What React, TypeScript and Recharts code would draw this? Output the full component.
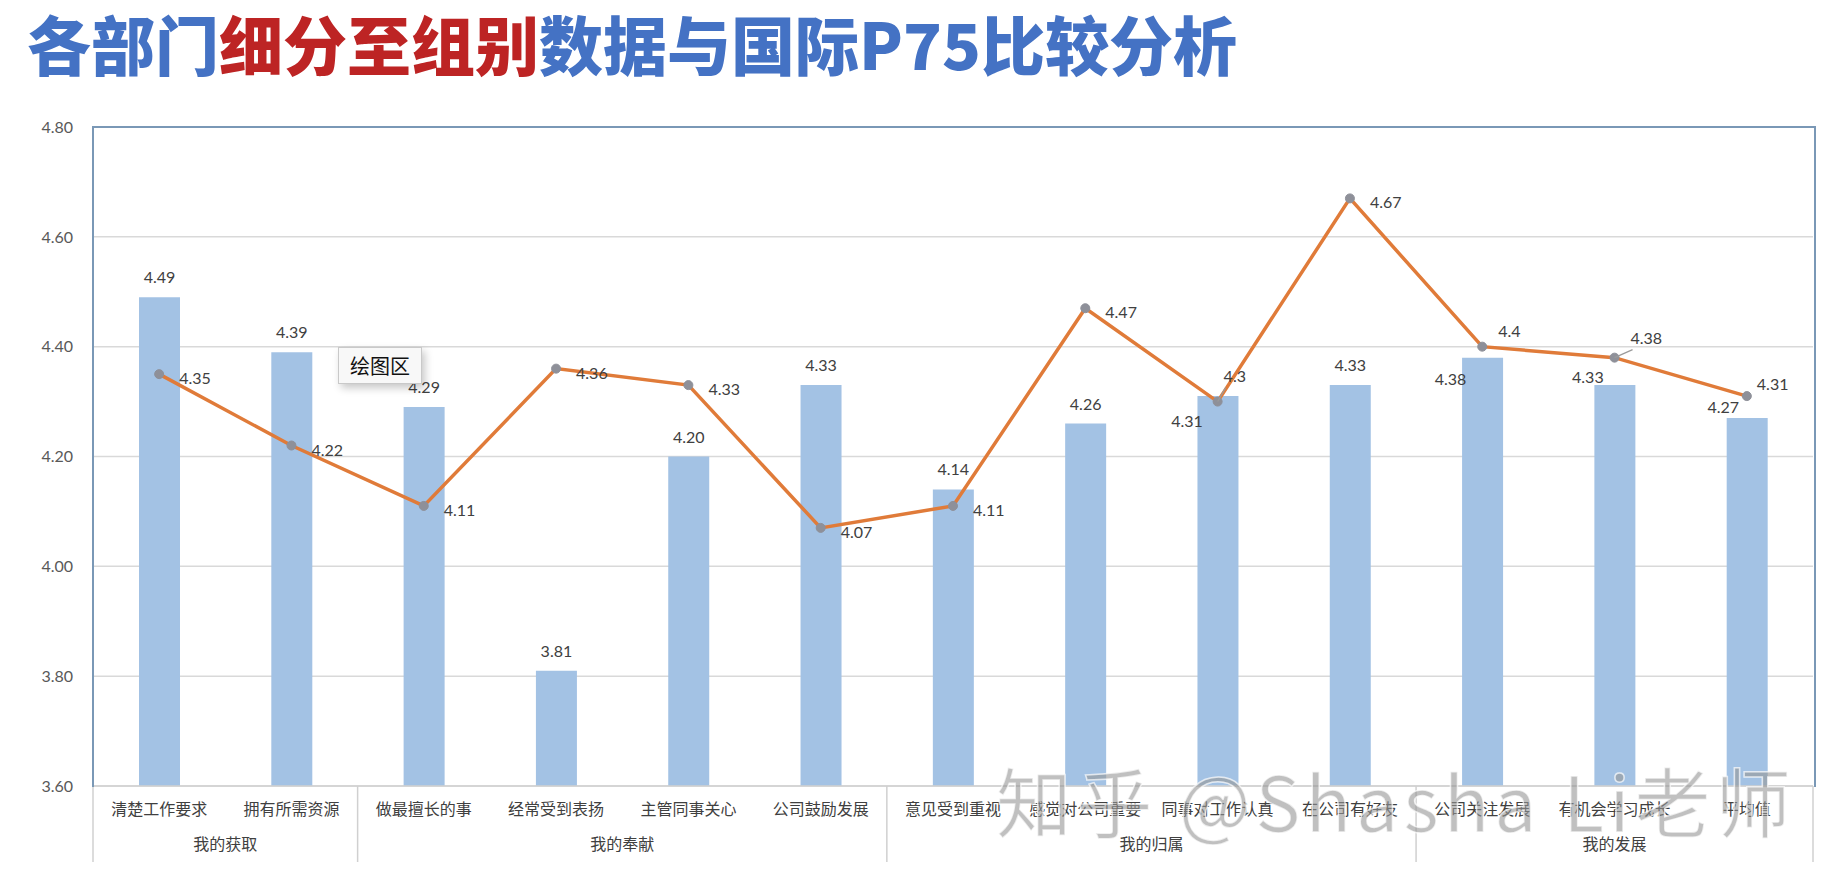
import { Bar, CartesianGrid, ComposedChart, LabelList, Line, XAxis, YAxis } from "recharts";

const CATEGORIES = [
  "清楚工作要求",
  "拥有所需资源",
  "做最擅长的事",
  "经常受到表扬",
  "主管同事关心",
  "公司鼓励发展",
  "意见受到重视",
  "感觉对公司重要",
  "同事对工作认真",
  "在公司有好友",
  "公司关注发展",
  "有机会学习成长",
  "平均值",
];
const GROUPS = ["我的获取", "我的奉献", "我的归属", "我的发展"];
const GROUP_SIZES = [2, 4, 4, 3];
const DEPT = [4.49, 4.39, 4.29, 3.81, 4.2, 4.33, 4.14, 4.26, 4.31, 4.33, 4.38, 4.33, 4.27];
const P75 = [4.35, 4.22, 4.11, 4.36, 4.33, 4.07, 4.11, 4.47, 4.3, 4.67, 4.4, 4.38, 4.31];
const Y_TICKS = [3.6, 3.8, 4.0, 4.2, 4.4, 4.6, 4.8];

const W = 1838;
const H = 882;
const PLOT_LEFT = 93;
const PLOT_RIGHT = 1813;
const PLOT_TOP = 127;
const PLOT_BOTTOM = 786;
const BAND = (PLOT_RIGHT - PLOT_LEFT) / CATEGORIES.length;

const BAR = "#a3c2e4";
const LINE = "#e07b39";
const DOT = "#8e9099";
const TEXT = "#404040";
const NUM_FONT = "Lato, 'Open Sans', sans-serif";
const CJK_FONT = "'Noto Sans CJK SC', sans-serif";

const data = CATEGORIES.map((name, i) => ({ name, dept: DEPT[i], p75: P75[i] }));

// group start index for each category
const groupStarts: number[] = [];
GROUP_SIZES.reduce((acc, n) => {
  groupStarts.push(acc);
  return acc + n;
}, 0);

// a few data labels were moved by hand in the original
const barLabelShift: Record<number, [number, number]> = {
  8: [-31, 45],
  10: [-32, 41],
  11: [-27, 12],
  12: [-24, 9],
};
const lineLabelShift: Record<number, [number, number, boolean]> = {
  8: [6, -20, true],
  10: [16, -10, false],
  11: [16, -14, true],
  12: [10, -6, false],
};

const BarLabel = (props: any) => {
  const { x, y, width, value, index } = props;
  const [dx, dy] = barLabelShift[index] ?? [0, 0];
  return (
    <text
      x={x + width / 2 + dx}
      y={y - 14 + dy}
      textAnchor="middle"
      fontSize={16}
      fontFamily={NUM_FONT}
      fill={TEXT}
    >
      {Number(value).toFixed(2)}
    </text>
  );
};

const LineLabel = (props: any) => {
  const { x, y, value, index } = props;
  const shift = lineLabelShift[index];
  const dx = shift ? shift[0] : 20;
  const dy = shift ? shift[1] : 10;
  return (
    <g>
      {shift && shift[2] && (
        <line x1={x} y1={y} x2={x + dx + 2} y2={y + dy + 6} stroke="#9a9a9a" strokeWidth={1.2} />
      )}
      <text x={x + dx} y={y + dy} fontSize={16} fontFamily={NUM_FONT} fill={TEXT}>
        {String(value)}
      </text>
    </g>
  );
};

const CategoryTick = (props: any) => {
  const { x, payload, index } = props;
  const g = groupStarts.indexOf(index);
  const last = index === CATEGORIES.length - 1;
  return (
    <g>
      <text
        x={x}
        y={PLOT_BOTTOM + 29}
        textAnchor="middle"
        fontSize={16}
        fontFamily={CJK_FONT}
        fill={TEXT}
      >
        {payload.value}
      </text>
      {g >= 0 && (
        <>
          <line
            x1={x - BAND / 2}
            x2={x - BAND / 2}
            y1={PLOT_BOTTOM}
            y2={PLOT_BOTTOM + 76}
            stroke="#d0d0d0"
            strokeWidth={1.5}
          />
          <text
            x={x + ((GROUP_SIZES[g] - 1) / 2) * BAND}
            y={PLOT_BOTTOM + 64}
            textAnchor="middle"
            fontSize={16}
            fontFamily={CJK_FONT}
            fill={TEXT}
          >
            {GROUPS[g]}
          </text>
        </>
      )}
      {last && (
        <line
          x1={x + BAND / 2}
          x2={x + BAND / 2}
          y1={PLOT_BOTTOM}
          y2={PLOT_BOTTOM + 76}
          stroke="#d0d0d0"
          strokeWidth={1.5}
        />
      )}
    </g>
  );
};

export default function App() {
  return (
    <div style={{ position: "absolute", left: 0, top: 0, width: W, height: H, background: "#fff", overflow: "hidden" }}>
      <div
        style={{
          position: "absolute",
          left: 27,
          top: 0,
          fontSize: 64,
          fontWeight: 900,
          lineHeight: "84px",
          whiteSpace: "nowrap",
          fontFamily: CJK_FONT,
          color: "#4472c4",
        }}
      >
        各部门<span style={{ color: "#bd2424" }}>细分至组别</span>数据与国际P75比较分析
      </div>

      <ComposedChart
        width={W}
        height={H}
        data={data}
        margin={{ top: PLOT_TOP, right: W - PLOT_RIGHT, bottom: H - PLOT_BOTTOM - 80, left: 0 }}
      >
        <CartesianGrid horizontal vertical={false} stroke="#d9d9d9" strokeWidth={1.5} />
        <XAxis
          dataKey="name"
          interval={0}
          height={80}
          tickLine={false}
          tickSize={0}
          tickMargin={0}
          axisLine={{ stroke: "#d0d0d0", strokeWidth: 1.5 }}
          tick={<CategoryTick />}
        />
        <YAxis
          width={PLOT_LEFT}
          domain={[3.6, 4.8]}
          ticks={Y_TICKS}
          tickFormatter={(v: number) => v.toFixed(2)}
          axisLine={false}
          tickLine={false}
          tickSize={0}
          tickMargin={20}
          tick={{ fontSize: 16, fill: "#595959", fontFamily: NUM_FONT }}
        />
        <Bar dataKey="dept" fill={BAR} barSize={41} isAnimationActive={false}>
          <LabelList dataKey="dept" content={<BarLabel />} />
        </Bar>
        <Line
          dataKey="p75"
          stroke={LINE}
          strokeWidth={3.5}
          dot={{ r: 4.5, fill: DOT, stroke: DOT, strokeWidth: 1 }}
          isAnimationActive={false}
        >
          <LabelList dataKey="p75" content={<LineLabel />} />
        </Line>
      </ComposedChart>

      {/* plot area frame */}
      <div
        style={{
          position: "absolute",
          left: PLOT_LEFT - 1,
          top: PLOT_TOP - 1,
          width: PLOT_RIGHT - PLOT_LEFT,
          height: PLOT_BOTTOM - PLOT_TOP,
          borderTop: "2px solid #7a98b6",
          borderLeft: "2px solid #7a98b6",
          borderRight: "2px solid #7a98b6",
          pointerEvents: "none",
        }}
      />

      {/* hover hint left in the screenshot */}
      <div
        style={{
          position: "absolute",
          left: 338,
          top: 347,
          width: 82,
          height: 35,
          border: "1px solid #c9c9c9",
          background: "#f8f8f8",
          boxShadow: "3px 4px 8px rgba(0,0,0,0.22)",
          fontFamily: CJK_FONT,
          fontSize: 20,
          lineHeight: "35px",
          textAlign: "center",
          color: "#111",
        }}
      >
        绘图区
      </div>

      <svg width={W} height={H} style={{ position: "absolute", left: 0, top: 0, pointerEvents: "none" }}>
        <text
          x={996}
          y={832}
          fontSize={76}
          fontFamily={CJK_FONT}
          fontWeight={400}
          textLength={795}
          lengthAdjust="spacing"
          fill="rgba(150,150,150,0.6)"
          stroke="rgba(255,255,255,0.7)"
          strokeWidth={1.5}
        >
          知乎 @Shasha Li老师
        </text>
      </svg>
    </div>
  );
}
